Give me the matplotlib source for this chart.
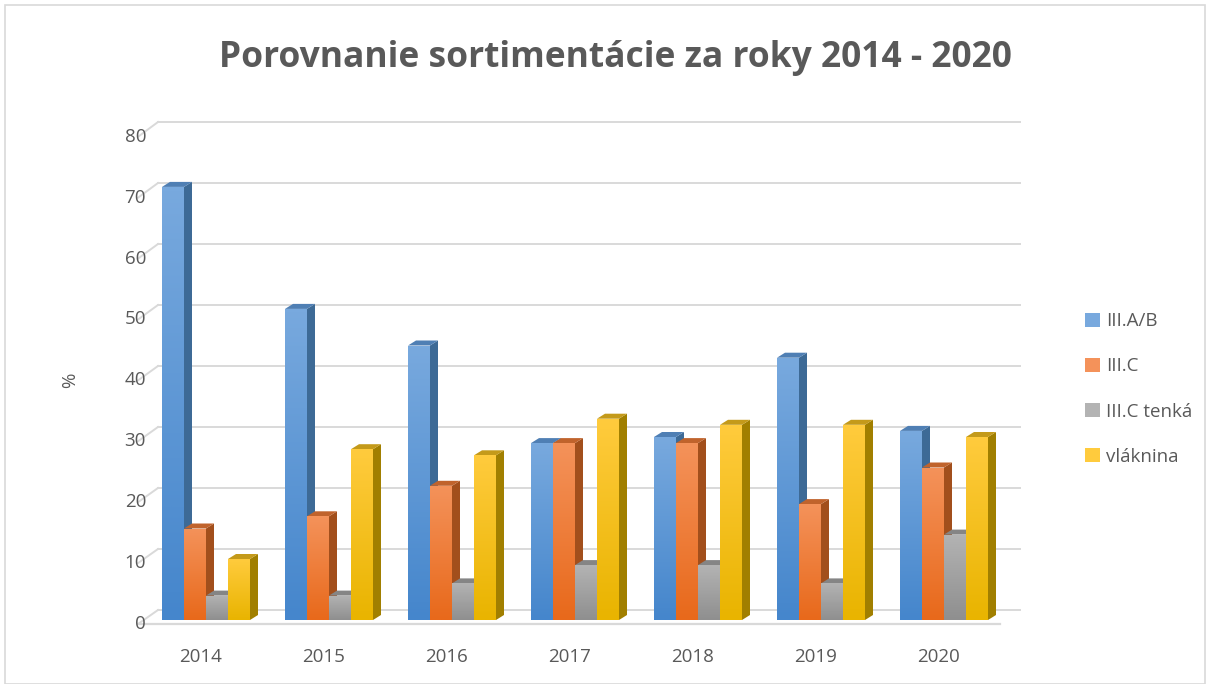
import numpy as np
import matplotlib
matplotlib.use("Agg")
import matplotlib.pyplot as plt
from matplotlib.patches import Polygon, Rectangle, Patch

years = ["2014", "2015", "2016", "2017", "2018", "2019", "2020"]
series = ["III.A/B", "III.C", "III.C tenká", "vláknina"]
ab = [71, 51, 45, 29, 30, 43, 31]
c = [15, 17, 22, 29, 29, 19, 25]
c_thin = [4, 4, 6, 9, 9, 6, 14]
fiber = [10, 28, 27, 33, 32, 32, 30]
values = [ab, c, c_thin, fiber]
yticks = [0, 10, 20, 30, 40, 50, 60, 70, 80]

# (top of gradient, bottom of gradient, side, top face)
COLORS = [
    ("#78a9de", "#4586cc", "#3d6a96", "#4f7fb4"),
    ("#f4925a", "#e8691b", "#a24f1c", "#c0632c"),
    ("#b3b3b3", "#8f8f8f", "#7a7a7a", "#858585"),
    ("#ffcb3d", "#e9b400", "#a17f00", "#c49a1a"),
]
TXT = "#595959"
GRID = "#d9d9d9"

W, H = 1210, 684
fig = plt.figure(figsize=(W / 100, H / 100), dpi=100)
plt.rcParams["font.family"] = ["Open Sans", "DejaVu Sans"]

# pixel <-> data mapping for the bar plane
PX0, PXS = 206.0, 123.0     # x pixel of category 0, pixels per category
PY0, PYS = 620.0, 6.1       # y pixel of value 0, pixels per unit
L_PX, R_PX, T_PX, B_PX = 120, 1040, 105, 645
ax = fig.add_axes([L_PX / W, 1 - B_PX / H, (R_PX - L_PX) / W, (B_PX - T_PX) / H])
ax.axis("off")

def X(px):
    return (px - PX0) / PXS

def Y(py):
    return (PY0 - py) / PYS

dxp, dyp = 8, 5             # bar depth in pixels
DX, DY = dxp / PXS, dyp / PYS

# back wall gridlines, left wall diagonals, floor
for v in yticks:
    yb = 610 - PYS * v
    yf = 624 - 6.09 * v
    ax.plot([X(158), X(1020)], [Y(yb), Y(yb)], color=GRID, lw=1.4, zorder=1)
    ax.plot([X(138), X(158)], [Y(yf), Y(yb)], color=GRID, lw=1.4, zorder=1)
ax.plot([X(138), X(1000)], [Y(624), Y(624)], color=GRID, lw=1.6, zorder=1)

bw = 22 / PXS
grad = np.linspace(0, 1, 64).reshape(-1, 1)
x = np.arange(len(years))
for s, vals in enumerate(values):
    top_c, bot_c, side_c, topf_c = COLORS[s]
    cmap = matplotlib.colors.LinearSegmentedColormap.from_list("g", [bot_c, top_c])
    xs = x - 2 * bw + s * bw
    z = 2 + s
    bars = ax.bar(xs, vals, width=bw, align="edge", color=bot_c, lw=0, zorder=z)
    for b, v in zip(bars, vals):
        x0, x1 = b.get_x(), b.get_x() + b.get_width()
        ax.add_patch(Polygon([(x1, 0), (x1, v), (x1 + DX, v + DY), (x1 + DX, DY)],
                             closed=True, fc=side_c, ec="none", zorder=z - 0.5))
        ax.add_patch(Polygon([(x0, v), (x1, v), (x1 + DX, v + DY), (x0 + DX, v + DY)],
                             closed=True, fc=topf_c, ec="none", zorder=z - 0.5))
        im = ax.imshow(grad, extent=[x0, x1, 0, v], origin="lower", cmap=cmap,
                       aspect="auto", zorder=z, interpolation="bilinear")
        im.set_clip_path(b)
ax.set_xlim((L_PX - PX0) / PXS, (R_PX - PX0) / PXS)
ax.set_ylim((PY0 - B_PX) / PYS, (PY0 - T_PX) / PYS)

# tick labels
for v in yticks:
    fig.text(146 / W, 1 - (624 - 6.09 * v) / H, str(v), ha="right", va="center",
             color=TXT, fontsize=13.5)
for i, yr in enumerate(years):
    fig.text((PX0 - 5 + PXS * i) / W, 1 - 657 / H, yr, ha="center", va="center",
             color=TXT, fontsize=13.5)
fig.text(70 / W, 1 - 380 / H, "%", rotation=90, ha="center", va="center",
         color=TXT, fontsize=13.5)

fig.text(615 / W, 1 - 58 / H, "Porovnanie sortimentácie za roky 2014 - 2020",
         ha="center", va="center", color=TXT, fontsize=25.5, fontweight="bold")

handles = [Patch(fc=cl[0], ec="none") for cl in COLORS]
fig.legend(handles, series, loc="center left", bbox_to_anchor=(1068 / W, 1 - 389 / H),
           frameon=False, handlelength=0.8, handleheight=0.8, handletextpad=0.35,
           labelspacing=1.45, fontsize=13.5, labelcolor=TXT)

fig.add_artist(Rectangle((5 / W, 0), 1200 / W, 1 - 5 / H, transform=fig.transFigure,
                         fill=False, ec=GRID, lw=1.2))

fig.savefig("out.png", dpi=100)
